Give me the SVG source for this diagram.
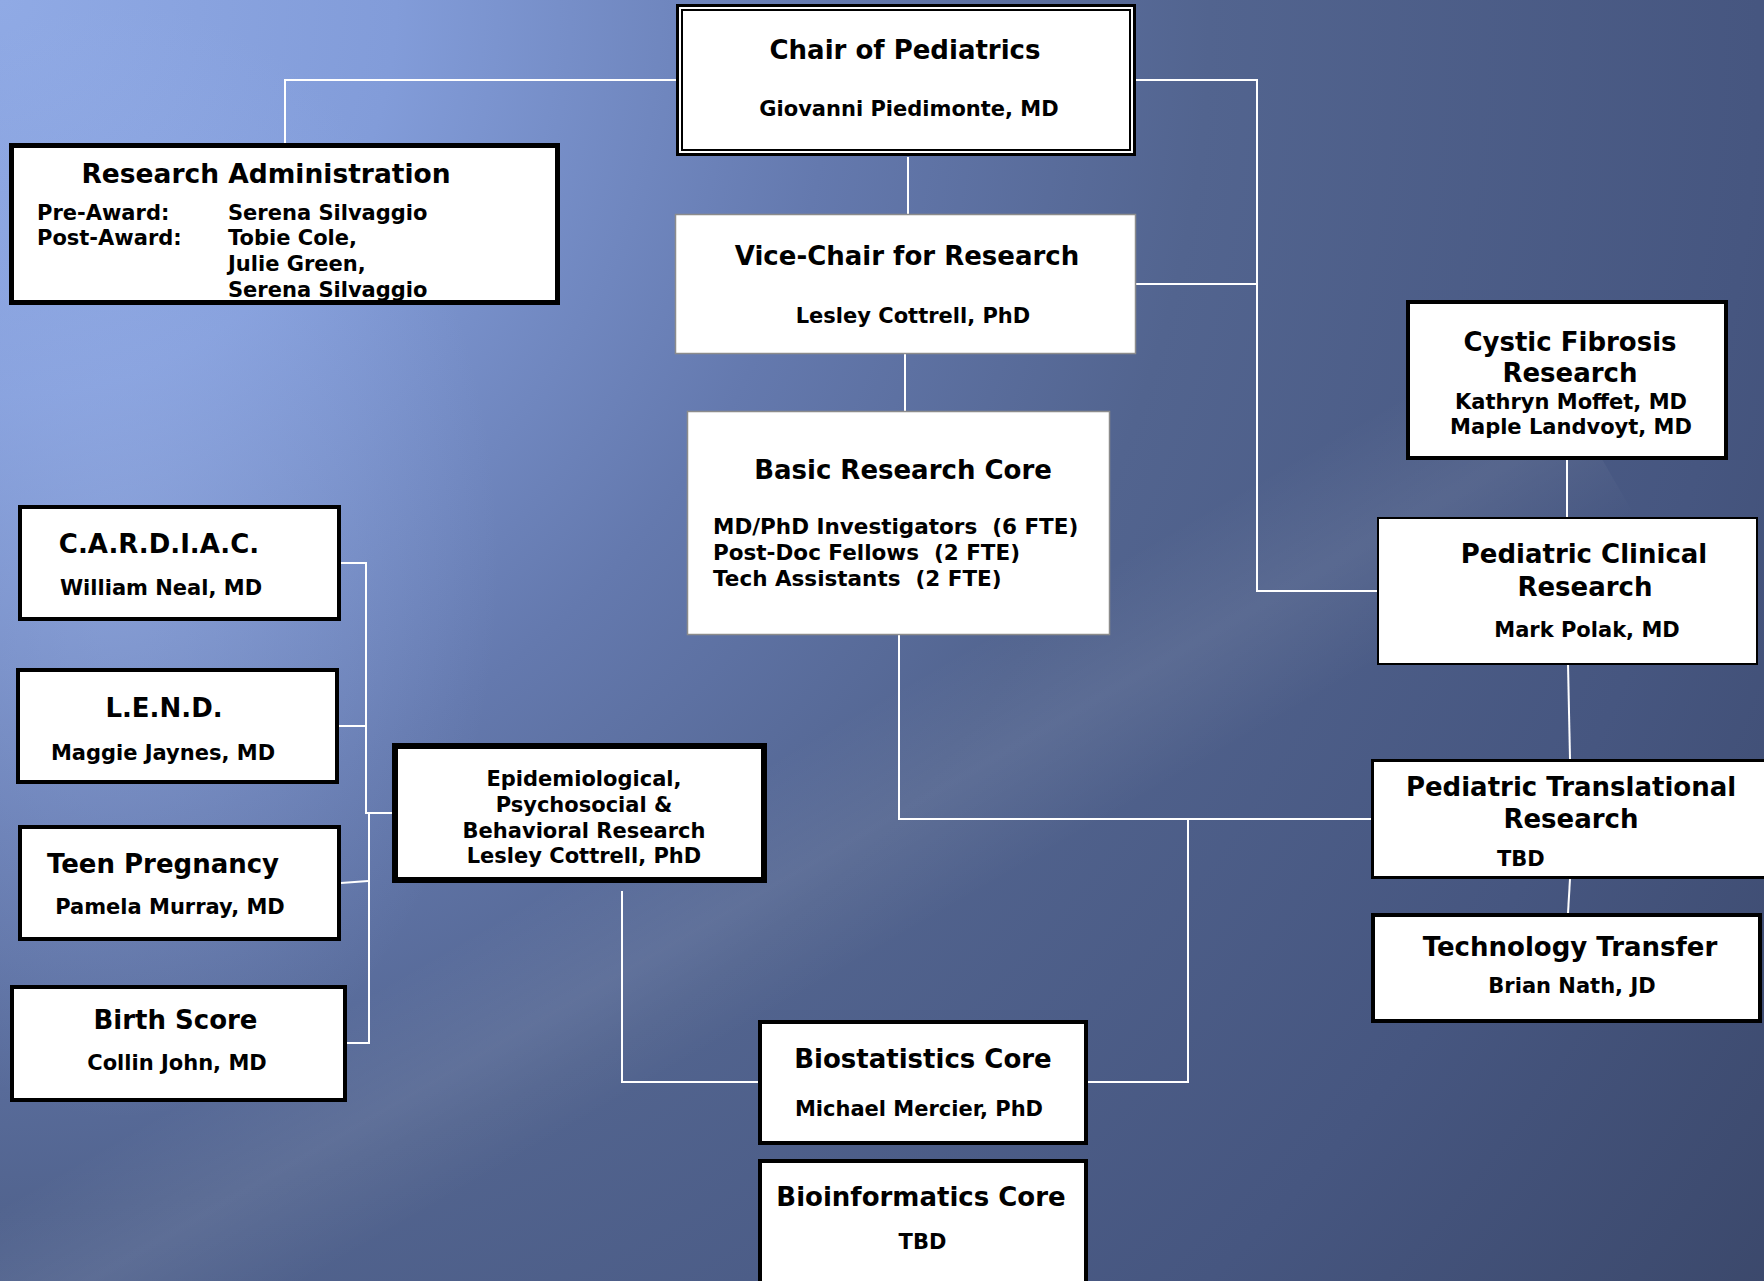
<svg xmlns="http://www.w3.org/2000/svg" width="1764" height="1281" viewBox="0 0 1764 1281">
<defs>
<radialGradient id="bg" cx="0" cy="0" r="2200" fx="0" fy="0" gradientUnits="userSpaceOnUse">
<stop offset="0" stop-color="#90aae5"/>
<stop offset="0.18" stop-color="#829cd9"/>
<stop offset="0.38" stop-color="#6479ae"/>
<stop offset="0.55" stop-color="#52648f"/>
<stop offset="0.8" stop-color="#465680"/>
<stop offset="1" stop-color="#3b486b"/>
</radialGradient>
<radialGradient id="glow" cx="0.5" cy="0.5" r="0.5">
<stop offset="0" stop-color="#a9c0f5" stop-opacity="0.35"/>
<stop offset="0.6" stop-color="#a9c0f5" stop-opacity="0.15"/>
<stop offset="1" stop-color="#a9c0f5" stop-opacity="0"/>
</radialGradient>
<linearGradient id="streak" x1="0" y1="0" x2="0" y2="1">
<stop offset="0" stop-color="#ffffff" stop-opacity="0"/>
<stop offset="0.5" stop-color="#ffffff" stop-opacity="0.07"/>
<stop offset="1" stop-color="#ffffff" stop-opacity="0"/>
</linearGradient>
<style>
.box{fill:#ffffff;stroke:#000000}
.thin{fill:#ffffff;stroke:#8c8c8c;stroke-width:1.5}
.t{font-family:"DejaVu Sans","Verdana",sans-serif;font-weight:bold;font-size:26px;fill:#000;text-anchor:middle}
.s{font-family:"DejaVu Sans","Verdana",sans-serif;font-weight:bold;font-size:21px;fill:#000;text-anchor:middle}
.l{font-family:"DejaVu Sans","Verdana",sans-serif;font-weight:bold;font-size:21px;fill:#000;text-anchor:start;white-space:pre}
.c{fill:none;stroke:#ffffff;stroke-width:2}
</style>
</defs>
<rect x="0" y="0" width="1764" height="1281" fill="url(#bg)"/>
<ellipse cx="120" cy="560" rx="380" ry="560" fill="url(#glow)"/>
<rect x="-300" y="760" width="2000" height="220" fill="url(#streak)" transform="rotate(-30 800 870)"/>

<g id="connectors">
<path class="c" d="M676,80 H285 V144"/>
<path class="c" d="M1135,80 H1257 V591 H1377"/>
<path class="c" d="M1136,284 H1257"/>
<path class="c" d="M908,157 V214"/>
<path class="c" d="M905,354 V411"/>
<path class="c" d="M1567,459 V517"/>
<path class="c" d="M1568,664 L1570,759"/>
<path class="c" d="M1570,879 L1568,913"/>
<path class="c" d="M899,635 V819 H1372"/>
<path class="c" d="M1188,819 V1082 H1087"/>
<path class="c" d="M622,891 V1082 H759"/>
<path class="c" d="M341,563 H366 V813 H392"/>
<path class="c" d="M369,813 V1043 H347"/>
<path class="c" d="M339,726 H366"/>
<path class="c" d="M341,883 L368,881"/>
</g>

<g id="chair">
<rect class="box" x="677.5" y="5.5" width="457" height="149" stroke-width="3"/>
<rect x="682" y="10" width="448" height="140" fill="none" stroke="#000" stroke-width="2"/>
<text class="t" x="905" y="59">Chair of Pediatrics</text>
<text class="s" x="909" y="115.5">Giovanni Piedimonte, MD</text>
</g>

<g id="research-admin">
<rect class="box" x="11.5" y="145.5" width="546" height="157" stroke-width="5"/>
<text class="t" x="266" y="183" style="font-size:26.5px">Research Administration</text>
<text class="l" x="37" y="220">Pre-Award:</text>
<text class="l" x="37" y="245">Post-Award:</text>
<text class="l" x="228" y="220">Serena Silvaggio</text>
<text class="l" x="228" y="245">Tobie Cole,</text>
<text class="l" x="228" y="270.5">Julie Green,</text>
<text class="l" x="228" y="296.5">Serena Silvaggio</text>
</g>

<g id="vice-chair">
<rect class="thin" x="675.5" y="214.5" width="460" height="139"/>
<text class="t" x="907" y="265">Vice-Chair for Research</text>
<text class="s" x="913" y="322.5">Lesley Cottrell, PhD</text>
</g>

<g id="basic-research">
<rect class="thin" x="687.5" y="411.5" width="422" height="223"/>
<text class="t" x="903" y="478.5">Basic Research Core</text>
<text class="l" x="713" y="534" style="font-size:21.5px">MD/PhD Investigators  (6 FTE)</text>
<text class="l" x="713" y="560" style="font-size:21.5px">Post-Doc Fellows  (2 FTE)</text>
<text class="l" x="713" y="585.5" style="font-size:21.5px">Tech Assistants  (2 FTE)</text>
</g>

<g id="cystic-fibrosis">
<rect class="box" x="1408" y="302" width="318" height="156" stroke-width="4"/>
<text class="t" x="1570" y="350.5">Cystic Fibrosis</text>
<text class="t" x="1570" y="382">Research</text>
<text class="s" x="1571" y="409">Kathryn Moffet, MD</text>
<text class="s" x="1571" y="434">Maple Landvoyt, MD</text>
</g>

<g id="pediatric-clinical">
<rect class="box" x="1378" y="518" width="379" height="146" stroke-width="2"/>
<text class="t" x="1584" y="563">Pediatric Clinical</text>
<text class="t" x="1585" y="595.5">Research</text>
<text class="s" x="1587" y="636.5">Mark Polak, MD</text>
</g>

<g id="pediatric-translational">
<rect class="box" x="1372.5" y="760.5" width="400" height="117" stroke-width="3"/>
<text class="t" x="1571" y="795.5">Pediatric Translational</text>
<text class="t" x="1571" y="827.5">Research</text>
<text class="l" x="1497" y="865.5">TBD</text>
</g>

<g id="technology-transfer">
<rect class="box" x="1373" y="915" width="387" height="106" stroke-width="4"/>
<text class="t" x="1570" y="955.5">Technology Transfer</text>
<text class="s" x="1572" y="993">Brian Nath, JD</text>
</g>

<g id="cardiac">
<rect class="box" x="20" y="507" width="319" height="112" stroke-width="4"/>
<text class="t" x="159" y="552.5">C.A.R.D.I.A.C.</text>
<text class="s" x="161" y="594.5">William Neal, MD</text>
</g>

<g id="lend">
<rect class="box" x="18" y="670" width="319" height="112" stroke-width="4"/>
<text class="t" x="164" y="717">L.E.N.D.</text>
<text class="s" x="163" y="760">Maggie Jaynes, MD</text>
</g>

<g id="teen-pregnancy">
<rect class="box" x="20" y="827" width="319" height="112" stroke-width="4"/>
<text class="t" x="163" y="872.5">Teen Pregnancy</text>
<text class="s" x="170" y="914">Pamela Murray, MD</text>
</g>

<g id="birth-score">
<rect class="box" x="12" y="987" width="333" height="113" stroke-width="4"/>
<text class="t" x="175.5" y="1028.5">Birth Score</text>
<text class="s" x="177" y="1069.5">Collin John, MD</text>
</g>

<g id="epidemiological">
<rect class="box" x="395" y="746" width="369" height="134" stroke-width="6"/>
<text class="s" x="584" y="786">Epidemiological,</text>
<text class="s" x="584" y="811.5">Psychosocial &amp;</text>
<text class="s" x="584" y="837.5">Behavioral Research</text>
<text class="s" x="584" y="862.5">Lesley Cottrell, PhD</text>
</g>

<g id="biostatistics">
<rect class="box" x="760" y="1022" width="326" height="121" stroke-width="4"/>
<text class="t" x="923" y="1068">Biostatistics Core</text>
<text class="s" x="919" y="1115.5">Michael Mercier, PhD</text>
</g>

<g id="bioinformatics">
<rect class="box" x="760" y="1161" width="326" height="130" stroke-width="4"/>
<text class="t" x="921" y="1205.5">Bioinformatics Core</text>
<text class="s" x="922.5" y="1248.5">TBD</text>
</g>
</svg>
